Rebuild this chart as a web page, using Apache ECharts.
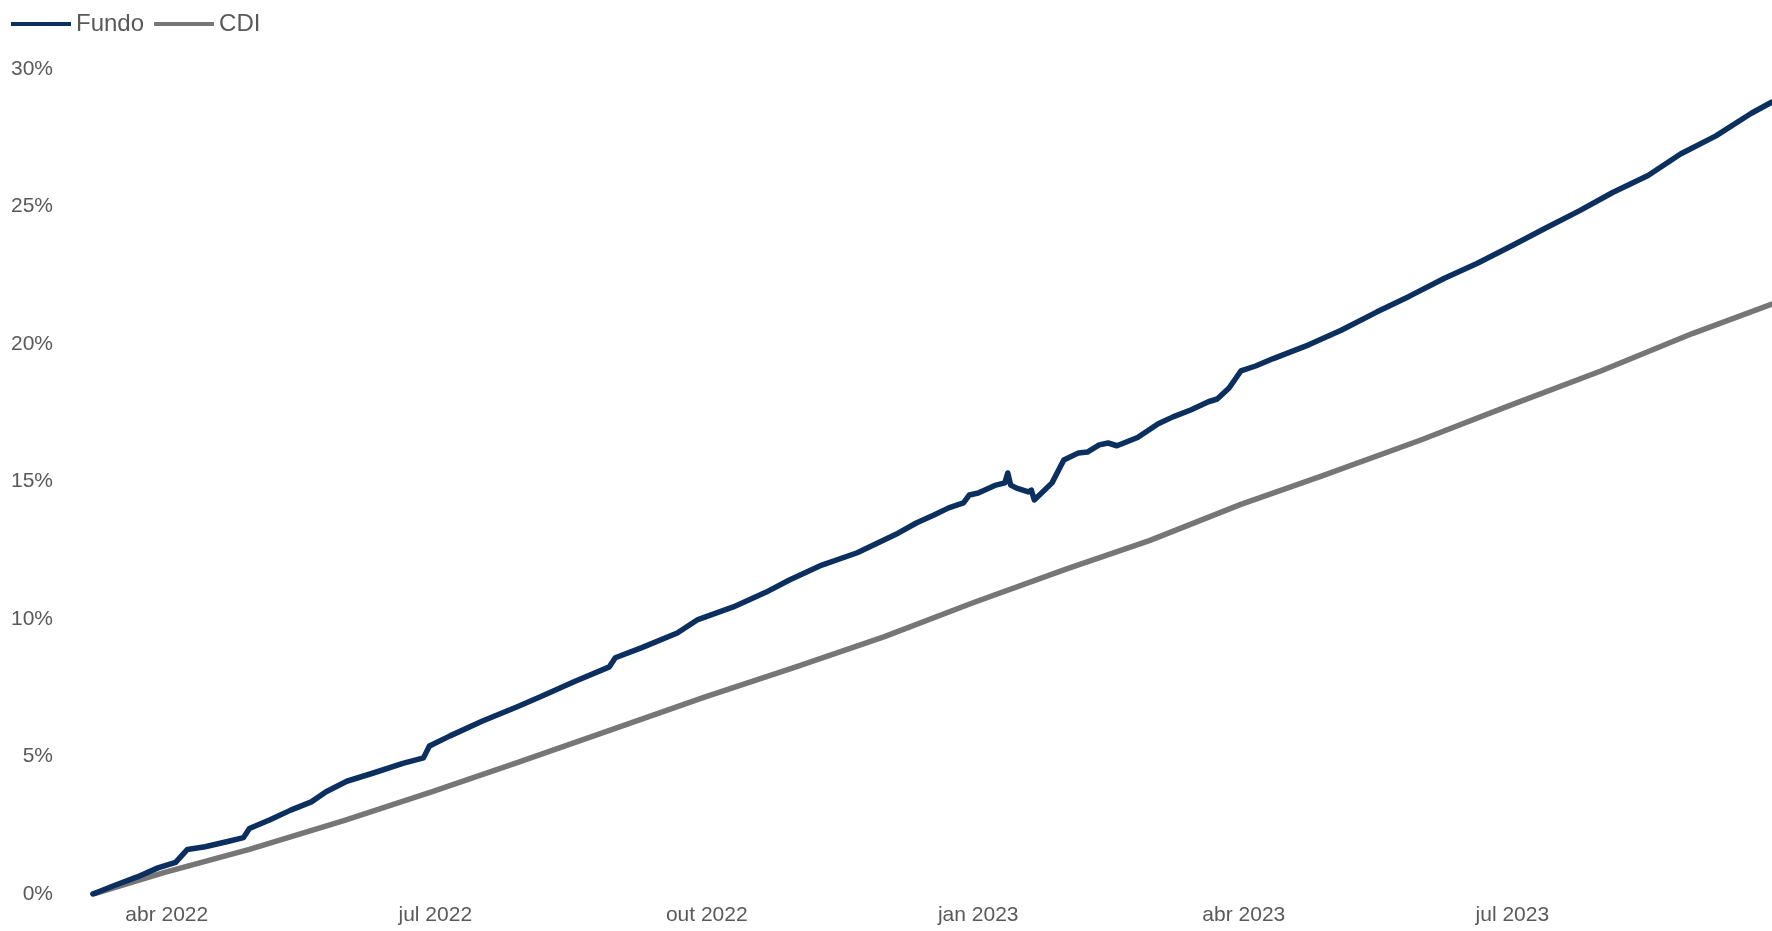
<!DOCTYPE html>
<html>
<head>
<meta charset="utf-8">
<script src="https://cdn.jsdelivr.net/npm/echarts@6/dist/echarts.min.js"></script>
<style>
html,body{margin:0;padding:0;background:#fff;}
#chart{width:1772px;height:931px;}
</style>
</head>
<body>
<div id="chart"></div>
<script>
// ---- Data (cumulative return, %) ----
const fundoDates = [
 '2022-03-07','2022-03-14','2022-03-22','2022-03-29','2022-04-04','2022-04-08','2022-04-14','2022-04-22','2022-04-27','2022-04-29',
 '2022-05-06','2022-05-13','2022-05-20','2022-05-25','2022-06-01','2022-06-10','2022-06-20','2022-06-27','2022-06-29','2022-07-06',
 '2022-07-17','2022-07-29','2022-08-06','2022-08-17','2022-08-29','2022-08-31','2022-09-09','2022-09-21','2022-09-28','2022-10-10',
 '2022-10-21','2022-10-29','2022-11-09','2022-11-21','2022-12-05','2022-12-11','2022-12-17','2022-12-22','2022-12-27','2022-12-29',
 '2023-01-01','2023-01-07','2023-01-10','2023-01-11','2023-01-12','2023-01-14','2023-01-18','2023-01-19','2023-01-20','2023-01-26',
 '2023-01-30','2023-02-04','2023-02-07','2023-02-11','2023-02-14','2023-02-17','2023-02-24','2023-03-03','2023-03-08','2023-03-14',
 '2023-03-20','2023-03-23','2023-03-27','2023-03-31','2023-04-05','2023-04-11','2023-04-23','2023-05-04','2023-05-16','2023-05-27',
 '2023-06-08','2023-06-19','2023-07-01','2023-07-12','2023-07-24','2023-08-04','2023-08-16','2023-08-27','2023-09-08','2023-09-20',
 '2023-09-27'
];
const fundoValues = [
 0.00,0.30,0.62,0.95,1.15,1.62,1.72,1.92,2.05,2.38,
 2.70,3.05,3.35,3.72,4.10,4.40,4.75,4.95,5.38,5.75,
 6.29,6.82,7.19,7.72,8.26,8.59,8.96,9.49,9.98,10.44,
 10.97,11.42,11.96,12.41,13.13,13.49,13.78,14.04,14.22,14.51,
 14.58,14.87,14.95,15.31,14.87,14.76,14.62,14.69,14.33,14.95,
 15.78,16.04,16.07,16.33,16.40,16.30,16.60,17.10,17.35,17.60,
 17.90,18.00,18.40,19.02,19.20,19.47,19.97,20.50,21.16,21.73,
 22.39,22.93,23.58,24.20,24.86,25.51,26.13,26.91,27.57,28.39,
 28.80
];
const cdiDates = [
 '2022-03-07','2022-03-31','2022-04-29','2022-05-31','2022-06-30','2022-07-29','2022-08-31','2022-09-30','2022-10-31','2022-11-30',
 '2022-12-30','2023-01-31','2023-02-28','2023-03-31','2023-04-28','2023-05-31','2023-06-30','2023-07-31','2023-08-31','2023-09-27'
];
const cdiValues = [
 0.00,0.78,1.62,2.67,3.72,4.79,6.02,7.15,8.25,9.35,
 10.58,11.82,12.85,14.17,15.22,16.51,17.76,19.02,20.38,21.45
];
const tickDates = ['2022-04-01','2022-07-01','2022-10-01','2023-01-01','2023-04-01','2023-07-01'];
const tickLabels = ['abr 2022','jul 2022','out 2022','jan 2023','abr 2023','jul 2023'];

const ts = d => { const p = d.split('-').map(Number); return Date.UTC(p[0], p[1]-1, p[2]); };
const tickTs = tickDates.map(ts);
const labelMap = {};
tickTs.forEach((t,i)=>{ labelMap[t] = tickLabels[i]; });

const chart = echarts.init(document.getElementById('chart'), null, {renderer:'canvas'});
const font = 'Liberation Sans, Arial, sans-serif';
chart.setOption({
  animation:false,
  backgroundColor:'#ffffff',
  textStyle:{fontFamily:font},
  legend:{
    left:6, top:7,
    itemWidth:60, itemHeight:14, itemGap:10,
    icon:'path://M0,5 L60,5 L60,9 L0,9 Z',
    textStyle:{fontSize:24, color:'#595959', fontFamily:font},
    data:['Fundo','CDI']
  },
  grid:{left:93, right:0, top:69, bottom:37, containLabel:false},
  xAxis:{
    type:'value',
    min:ts('2022-03-07'), max:ts('2023-09-27'),
    axisLine:{show:false}, axisTick:{show:false}, splitLine:{show:false},
    axisLabel:{
      customValues:tickTs,
      formatter:v=>labelMap[v] || '',
      color:'#595959', fontSize:21, fontFamily:font, margin:11
    }
  },
  yAxis:{
    type:'value', min:0, max:30, interval:5,
    axisLine:{show:false}, axisTick:{show:false}, splitLine:{show:false},
    axisLabel:{formatter:'{value}%', color:'#595959', fontSize:21, fontFamily:font, margin:40}
  },
  series:[
    {name:'Fundo', type:'line', showSymbol:false, symbol:'none', z:3,
     itemStyle:{color:'#0B2F5E'}, lineStyle:{color:'#0B2F5E', width:5.5, join:'round', cap:'round'},
     data:fundoDates.map((d,i)=>[ts(d), fundoValues[i]])},
    {name:'CDI', type:'line', showSymbol:false, symbol:'none', z:2,
     itemStyle:{color:'#767676'}, lineStyle:{color:'#767676', width:5.5, join:'round', cap:'round'},
     data:cdiDates.map((d,i)=>[ts(d), cdiValues[i]])}
  ]
});
</script>
</body>
</html>
